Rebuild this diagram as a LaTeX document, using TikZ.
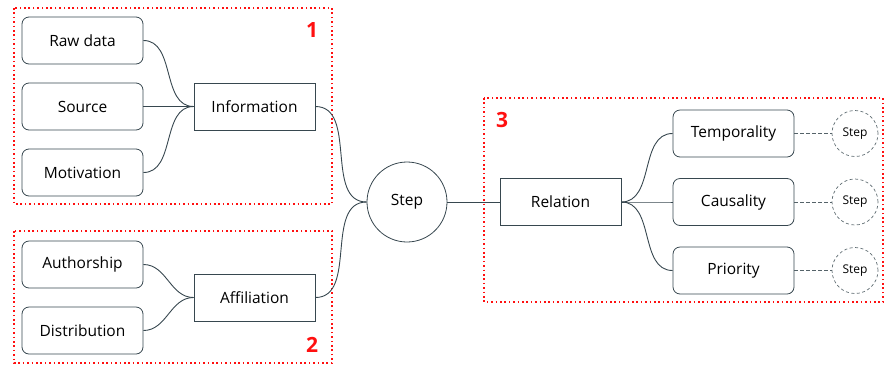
\documentclass[tikz,border=0pt]{standalone}
\usepackage{fontspec}
\setmainfont{Open Sans}
\usetikzlibrary{positioning}
\definecolor{edgegray}{HTML}{37474F}
\definecolor{groupred}{HTML}{FF1010}

\begin{document}
\begin{tikzpicture}[x=1pt,y=-1pt,
  leaf/.style={draw=edgegray,line width=0.8pt,rounded corners=7pt,minimum width=121pt,minimum height=47pt,font=\fontsize{15.5}{18}\selectfont,text=black},
  topic/.style={draw=edgegray,line width=0.8pt,minimum width=121pt,minimum height=47pt,font=\fontsize{15.5}{18}\selectfont,text=black},
  hub/.style={circle,draw=edgegray,line width=0.8pt,minimum size=80pt,font=\fontsize{15.5}{18}\selectfont,text=black},
  ref/.style={circle,draw=edgegray!80,dash pattern=on 3pt off 2.5pt,line width=0.7pt,minimum size=46pt,font=\fontsize{12}{14}\selectfont,text=black},
  link/.style={draw=edgegray,line width=0.9pt},
  reflink/.style={draw=edgegray!85,line width=0.9pt,dash pattern=on 3.5pt off 2.5pt},
  group/.style={draw=groupred,line width=1.6pt,dash pattern=on 1.6pt off 2.8pt},
  num/.style={text=groupred,font=\bfseries\fontsize{21}{24}\selectfont}]
\useasboundingbox (0,0) rectangle (885,365);

% groups
\draw[group](14,8)rectangle(332,204);
\draw[group](14,231)rectangle(332,363);
\draw[group](484,98)rectangle(883,302);
\node[num] (n1) at (312,30) {1};
\node[num] (n2) at (312,345) {2};
\node[num] (n3) at (502,120) {3};

% group 1
\node[leaf] (raw) at (82.5,40.5) {Raw data};
\node[leaf] (source) at (82.5,106.5) {Source};
\node[leaf] (motiv) at (82.5,172.5) {Motivation};
\node[topic] (info) at (254.5,106.5) {Information};

% group 2
\node[leaf] (author) at (82.5,264.5) {Authorship};
\node[leaf] (distrib) at (82.5,330.5) {Distribution};
\node[topic] (affil) at (254.5,297.5) {Affiliation};

% centre
\node[hub] (step) at (407,202) {Step};

% group 3
\node[topic] (relation) at (560.5,202) {Relation};
\node[leaf] (tempo) at (733.5,133.5) {Temporality};
\node[leaf] (causal) at (733.5,202) {Causality};
\node[leaf] (prio) at (733.5,270.5) {Priority};
\node[ref] (step1) at (855,133.5) {Step};
\node[ref] (step2) at (855,202) {Step};
\node[ref] (step3) at (855,270.5) {Step};

% connectors
\draw[link](raw.east) to[out=0,in=180] (info.west);
\draw[link](source.east) to[out=0,in=180] (info.west);
\draw[link](motiv.east) to[out=0,in=180] (info.west);
\draw[link](author.east) to[out=0,in=180] (affil.west);
\draw[link](distrib.east) to[out=0,in=180] (affil.west);
\draw[link](info.east) to[out=0,in=180] (step.west);
\draw[link](affil.east) to[out=0,in=180] (step.west);
\draw[link](step.east) -- (relation.west);
\draw[link](relation.east) to[out=0,in=180] (tempo.west);
\draw[link](relation.east) to[out=0,in=180] (causal.west);
\draw[link](relation.east) to[out=0,in=180] (prio.west);
\draw[reflink](tempo.east) -- (step1.west);
\draw[reflink](causal.east) -- (step2.west);
\draw[reflink](prio.east) -- (step3.west);

\end{tikzpicture}
\end{document}
